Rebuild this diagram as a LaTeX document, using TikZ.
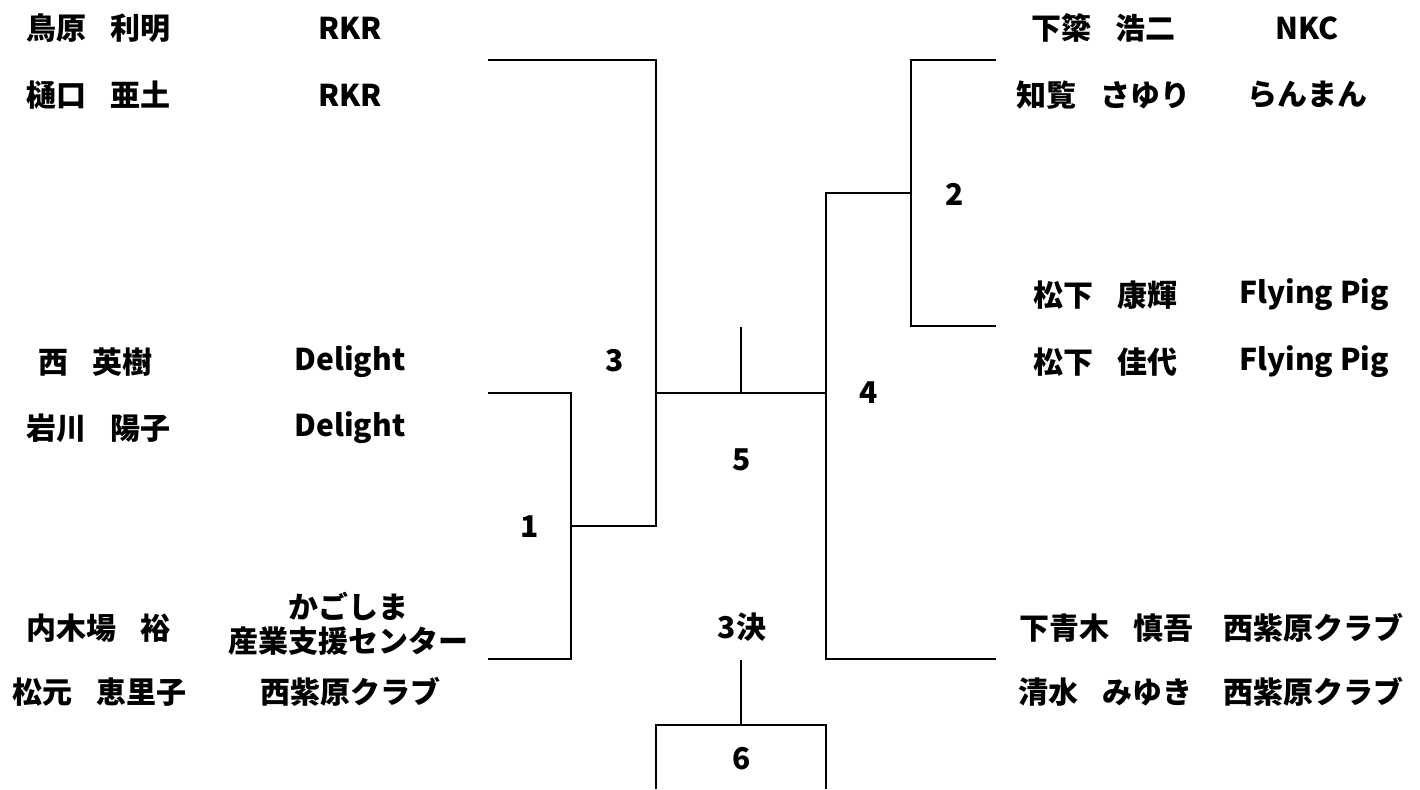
\documentclass[tikz,border=0pt]{standalone}
\usepackage{fontspec}
\setmainfont{Noto Sans CJK JP}
\usepackage{tikz}

\newcommand{\nsep}{\hspace{0.8em}}

\begin{document}
\begin{tikzpicture}[x=0.5pt,y=-0.5pt,
    line/.style={line width=1.3pt},
    plr/.style={font=\bfseries\fontsize{15}{17}\selectfont, inner sep=0pt, align=center},
    num/.style={font=\bfseries\fontsize{15}{17}\selectfont, inner sep=0pt}]
    \useasboundingbox (0,0) rectangle (1420,789);
    % left side players and teams
    \node[plr] (l1) at (98,28) {鳥原\nsep 利明};
    \node[plr] (l2) at (98,95) {樋口\nsep 亜土};
    \node[plr] (l3) at (96,362) {西\nsep 英樹};
    \node[plr] (l4) at (98,428) {岩川\nsep 陽子};
    \node[plr] (l5) at (98,628) {内木場\nsep 裕};
    \node[plr] (l6) at (99,692) {松元\nsep 恵里子};
    \node[plr] (lt1) at (350,28) {RKR};
    \node[plr] (lt2) at (350,95) {RKR};
    \node[plr] (lt3) at (350,362) {Delight};
    \node[plr] (lt4) at (350,428) {Delight};
    \node[plr] (lt5) at (348,624) {かごしま\\産業支援センター};
    \node[plr] (lt6) at (350,692) {西紫原クラブ};
    % right side players and teams
    \node[plr] (r1) at (1103,28) {下簗\nsep 浩二};
    \node[plr] (r2) at (1103,95) {知覧\nsep さゆり};
    \node[plr] (r3) at (1105,295) {松下\nsep 康輝};
    \node[plr] (r4) at (1105,362) {松下\nsep 佳代};
    \node[plr] (r5) at (1106,628) {下青木\nsep 慎吾};
    \node[plr] (r6) at (1105,692) {清水\nsep みゆき};
    \node[plr] (rt1) at (1307,28) {NKC};
    \node[plr] (rt2) at (1307,95) {らんまん};
    \node[plr] (rt3) at (1314,295) {Flying Pig};
    \node[plr] (rt4) at (1314,362) {Flying Pig};
    \node[plr] (rt5) at (1313,628) {西紫原クラブ};
    \node[plr] (rt6) at (1313,692) {西紫原クラブ};
    % match numbers
    \node[num] (g1) at (530,527) {1};
    \node[num] (g2) at (955,194) {2};
    \node[num] (g3) at (615,361) {3};
    \node[num] (g4) at (869,393) {4};
    \node[num] (g5) at (742,460) {5};
    \node[num] (g3k) at (742,627) {3決};
    \node[num] (g6) at (742,759) {6};
    % bracket joints
    \coordinate (a1) at (488,60);
    \coordinate (a2) at (656,60);
    \coordinate (b1) at (488,393);
    \coordinate (b2) at (571,393);
    \coordinate (c1) at (488,659);
    \coordinate (c2) at (571,659);
    \coordinate (m1) at (571,526);
    \coordinate (m1r) at (656,526);
    \coordinate (m3) at (656,393);
    \coordinate (m4) at (826,393);
    \coordinate (fin) at (741,393);
    \coordinate (win) at (741,327);
    \coordinate (d1) at (996,60);
    \coordinate (d2) at (911,60);
    \coordinate (e1) at (996,326);
    \coordinate (e2) at (911,326);
    \coordinate (m2) at (911,193);
    \coordinate (m2l) at (826,193);
    \coordinate (f1) at (996,659);
    \coordinate (f2) at (826,659);
    \coordinate (t1) at (741,660);
    \coordinate (t2) at (741,725);
    \coordinate (tl) at (656,725);
    \coordinate (tr) at (826,725);
    \coordinate (tlb) at (656,789);
    \coordinate (trb) at (826,789);
    % lines
    \draw[line] (a1) -- (a2) -- (m1r) -- (m1);
    \draw[line] (b1) -- (b2) -- (c2) -- (c1);
    \draw[line] (m3) -- (m4);
    \draw[line] (fin) -- (win);
    \draw[line] (d1) -- (d2) -- (e2) -- (e1);
    \draw[line] (m2) -- (m2l) -- (f2) -- (f1);
    \draw[line] (t1) -- (t2);
    \draw[line] (tlb) -- (tl) -- (tr) -- (trb);
\end{tikzpicture}
\end{document}
